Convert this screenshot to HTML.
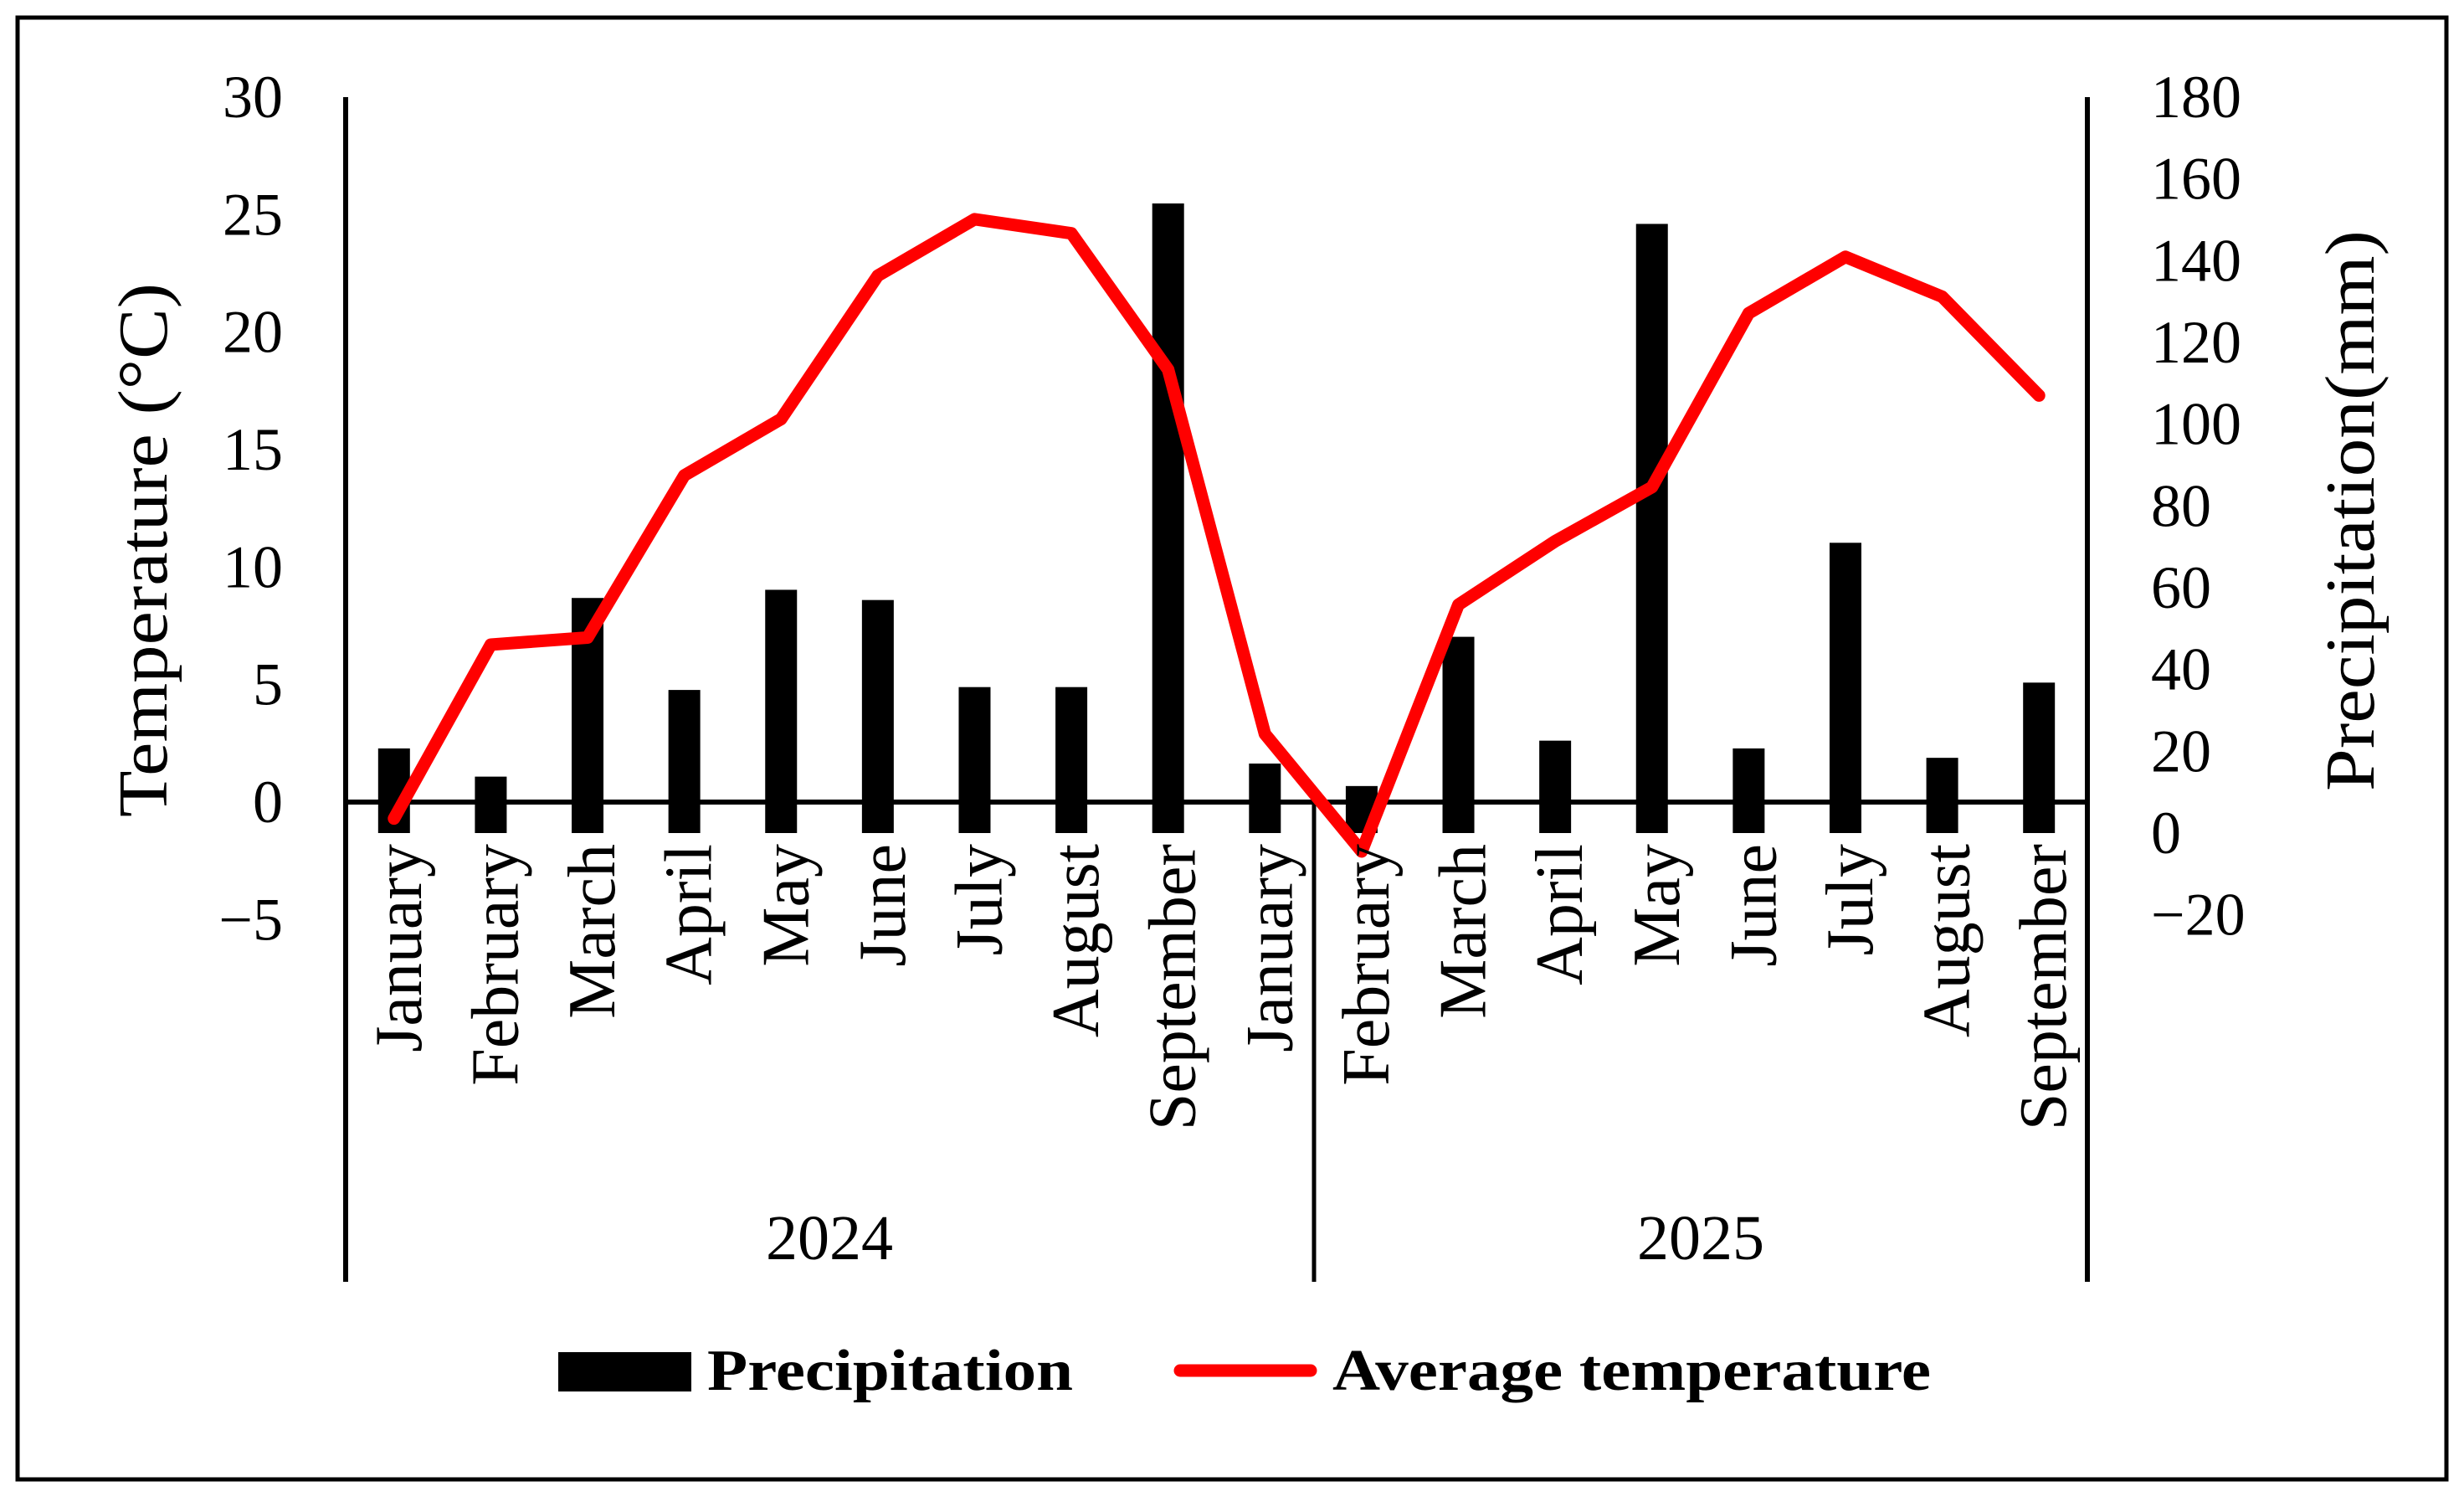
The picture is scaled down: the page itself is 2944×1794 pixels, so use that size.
<!DOCTYPE html>
<html><head><meta charset="utf-8"><style>
html,body{margin:0;padding:0;background:#fff;}
svg{display:block;font-family:"Liberation Serif",serif;}
</style></head><body>
<svg id="chart" width="2944" height="1794" viewBox="0 0 2944 1794" xmlns="http://www.w3.org/2000/svg">
<rect x="21" y="21" width="2902" height="1746" fill="#fff" stroke="#000" stroke-width="5"/>
<g id="bars"></g>
<g id="axes"></g>
<g id="line"></g>
<g id="labels"></g>
<text transform="translate(199,657) rotate(-90)" text-anchor="middle" font-size="84" textLength="638" lengthAdjust="spacingAndGlyphs">Temperature (°C)</text>
<text transform="translate(2836,610) rotate(-90)" text-anchor="middle" font-size="84" textLength="670" lengthAdjust="spacingAndGlyphs">Precipitation(mm)</text>
<rect x="667" y="1615" width="159" height="47" fill="#000"/>
<text x="845" y="1660" font-size="70" font-weight="bold" textLength="437" lengthAdjust="spacingAndGlyphs">Precipitation</text>
<line x1="1410" y1="1637" x2="1566" y2="1637" stroke="#ff0000" stroke-width="15" stroke-linecap="round"/>
<text x="1592" y="1660" font-size="70" font-weight="bold" textLength="715" lengthAdjust="spacingAndGlyphs">Average temperature</text>
</svg>
<script>
const months = ["January","February","March","April","May","June","July","August","September","January","February","March","April","May","June","July","August","September"];
const precipitation = [20.7,13.8,57.5,35,59.5,57,35.7,35.7,154,17,11.5,48,22.6,149,20.7,71,18.4,36.8];
const temperature = [-0.7,6.7,7.0,13.9,16.3,22.4,24.8,24.2,18.4,2.9,-2.1,8.4,11.1,13.4,20.8,23.2,21.5,17.3];
const tempTicks = [30,25,20,15,10,5,0,-5];
const precipTicks = [180,160,140,120,100,80,60,40,20,0,-20];
const years = ["2024","2025"];

const NS="http://www.w3.org/2000/svg";
const X0=413, X1=2494;
const step=(X1-X0)/months.length;
const xC=i=>X0+step*(i+0.5);
const yT=v=>958-v*28.07;
const yP=v=>995-v*4.883;
function mk(tag,attrs,parent){const e=document.createElementNS(NS,tag);for(const k in attrs)e.setAttribute(k,attrs[k]);parent.appendChild(e);return e;}

const bars=document.getElementById('bars');
precipitation.forEach((v,i)=>{
  const r=mk('rect',{x:xC(i)-19,y:yP(v),width:38,height:yP(0)-yP(v),fill:'#000'},bars);
  
  
});

const axes=document.getElementById('axes');
const a1=mk('line',{x1:X0,y1:116,x2:X0,y2:1531,stroke:'#000','stroke-width':6},axes);


const a2=mk('line',{x1:X1,y1:116,x2:X1,y2:1531,stroke:'#000','stroke-width':6},axes);


const a3=mk('line',{x1:1570,y1:958,x2:1570,y2:1531,stroke:'#000','stroke-width':5},axes);


const a4=mk('line',{x1:X0,y1:yT(0),x2:X1,y2:yT(0),stroke:'#000','stroke-width':6},axes);



const line=document.getElementById('line');
const pl=mk('polyline',{points:temperature.map((v,i)=>xC(i)+','+yT(v)).join(' '),fill:'none',stroke:'#ff0000','stroke-width':15,'stroke-linejoin':'round','stroke-linecap':'round'},line);



const labels=document.getElementById('labels');
const fmt=v=>v<0?'\u2212'+Math.abs(v):String(v);
tempTicks.forEach(v=>{
  const t=mk('text',{x:338,y:yT(v)+24,'text-anchor':'end','font-size':72},labels);
  t.textContent=fmt(v);
  
  
});
precipTicks.forEach(v=>{
  const t=mk('text',{x:2570,y:yP(v)+24,'font-size':72},labels);
  t.textContent=fmt(v);
  
  
});
months.forEach((m,i)=>{
  const t=mk('text',{transform:`translate(${xC(i)+32},1008) rotate(-90)`,'text-anchor':'end','font-size':80},labels);
  t.textContent=m;
  
  
});
years.forEach((y,i)=>{
  const t=mk('text',{x:i===0?991:2032,y:1504,'text-anchor':'middle','font-size':76},labels);
  t.textContent=y;
  
  
});
</script>
</body></html>
